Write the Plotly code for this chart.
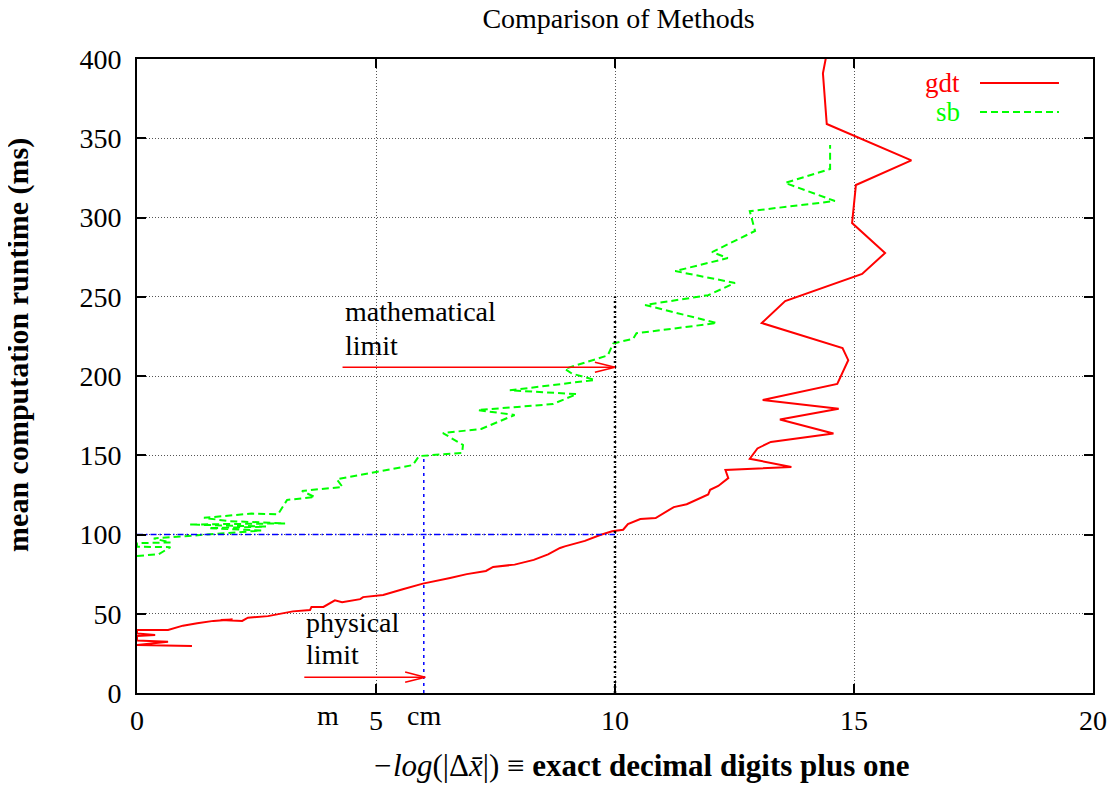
import plotly.graph_objects as go

# ---- data ----
gdt_x = [1.15, 0.0, 0.65, 0.0, 0.0, 0.38, 0.0, 0.0, 0.65, 0.96, 1.26, 1.6, 2.0, 1.75, 2.2,
         2.32, 2.74, 3.26, 3.62, 3.65, 3.9, 4.14, 4.29, 4.67, 4.73, 5.04, 5.15, 5.56, 5.98,
         6.55, 6.9, 7.3, 7.45, 7.9, 8.3, 8.6, 8.85, 8.95, 9.37, 9.69, 9.94, 10.17, 10.27,
         10.53, 10.85, 11.23, 11.5, 11.95, 11.99, 12.16, 12.37, 12.31, 13.69, 12.82, 12.98,
         13.26, 14.57, 13.45, 14.68, 13.09, 14.65, 14.88, 14.76, 13.07, 13.56, 15.17, 15.65,
         14.96, 15.04, 16.2, 14.43, 14.35, 14.42]
gdt_y = [29.7, 30.3, 32.3, 33.2, 36.0, 36.6, 37.5, 39.7, 39.7, 42.5, 44.0, 45.5, 46.3, 46.0, 45.5,
         47.5, 48.5, 51.5, 52.3, 54.3, 54.3, 58.5, 57.3, 59.2, 60.5, 61.2, 61.8, 65.5, 69.0,
         72.6, 75.0, 77.0, 79.5, 81.0, 84.0, 87.5, 91.5, 92.5, 96.0, 99.7, 102.0, 103.0, 106.6,
         109.8, 110.4, 117.3, 119.1, 125.3, 128.2, 130.6, 135.6, 140.7, 142.6, 147.8, 154.3,
         158.4, 163.7, 172.6, 179.4, 184.9, 195.0, 210.0, 217.6, 233.4, 247.3, 264.4, 277.6,
         296.5, 320.5, 336.0, 359.0, 391.0, 402.0]

sb_x = [0.0, 0.45, 0.7, 0.0, 0.0, 0.7, 0.35, 1.0, 2.6, 1.5, 2.7, 1.1, 3.1, 1.9, 1.4, 2.4, 2.95,
        3.14, 3.72, 3.45, 4.3, 4.18, 5.77, 5.9, 6.8, 6.82, 6.4, 7.2, 7.9, 7.13, 8.7, 9.2, 7.8,
        9.58, 9.1, 8.95, 9.85, 9.96, 10.38, 10.45, 12.13, 10.63, 11.95, 12.51, 11.26, 12.36,
        12.03, 12.93, 12.82, 14.6, 13.56, 14.5, 14.5]
sb_y = [86.5, 87.5, 92.0, 92.3, 94.5, 95.0, 97.5, 99.0, 102.5, 104.0, 105.0, 106.3, 107.0, 108.5,
        110.5, 113.2, 112.8, 121.8, 123.6, 127.5, 130.0, 134.8, 143.8, 149.5, 151.4, 156.5,
        164.0, 166.6, 175.4, 178.5, 182.3, 188.6, 191.0, 197.5, 201.5, 204.5, 213.0, 220.5,
        223.5, 227.0, 233.4, 244.8, 251.0, 258.7, 266.2, 274.4, 278.2, 291.5, 304.0, 310.4,
        321.8, 330.6, 345.7]

x_ticks = [0, 5, 10, 15, 20]
y_ticks = [0, 50, 100, 150, 200, 250, 300, 350, 400]

# reference lines
phys_x = 6          # "cm" physical limit
phys_y = 150
math_x = 10         # mathematical limit
math_y = 250
hline_y = 100

# arrows (start x, end x, y)
phys_arrow = (3.5, 6.03, 10)
math_arrow = (4.3, 10.0, 205.5)

unit_labels = [("m", 4), ("cm", 6)]

FONT = "Liberation Serif, Times New Roman, serif"
RED = "#ff0000"
GREEN = "#00ff00"
BLUE = "#0000ff"

fig = go.Figure()

fig.add_trace(go.Scatter(x=gdt_x, y=gdt_y, mode="lines", name="gdt",
                         line=dict(color=RED, width=2), showlegend=False))
fig.add_trace(go.Scatter(x=sb_x, y=sb_y, mode="lines", name="sb",
                         line=dict(color=GREEN, width=2, dash="7px,4px"), showlegend=False))

# guide lines
fig.add_trace(go.Scatter(x=[0, math_x], y=[hline_y, hline_y], mode="lines", showlegend=False,
                         line=dict(color=BLUE, width=1.3, dash="6px,3px,1.5px,3px")))
fig.add_trace(go.Scatter(x=[phys_x, phys_x], y=[0, phys_y], mode="lines", showlegend=False,
                         line=dict(color=BLUE, width=1.5, dash="3px,4px")))
fig.add_trace(go.Scatter(x=[math_x, math_x], y=[0, math_y], mode="lines", showlegend=False,
                         line=dict(color="black", width=2.5, dash="2px,3px")))

# arrows drawn as line traces with open V heads
HX, HY = 0.42, 3.2
for (x0, x1, yy) in [phys_arrow, math_arrow]:
    fig.add_trace(go.Scatter(
        x=[x0, x1, None, x1 - HX, x1, x1 - HX],
        y=[yy, yy, None, yy + HY, yy, yy - HY],
        mode="lines", showlegend=False, line=dict(color=RED, width=1.5)))

annotations = []
def txt(x, y, s, xref="x", yref="y", xanchor="left", yanchor="middle", color="black",
        size=28, **kw):
    annotations.append(dict(x=x, y=y, xref=xref, yref=yref, text=s, showarrow=False,
                            xanchor=xanchor, yanchor=yanchor,
                            font=dict(family=FONT, size=size, color=color), **kw))

txt(4.3, 240.5, "mathematical")
txt(4.3, 219.0, "limit")
txt(3.5, 44.5, "physical")
txt(3.5, 24.0, "limit")

for lab, xv in unit_labels:
    txt(xv, 0, lab, yref="paper", xanchor="center", yanchor="middle", yshift=-22)

# axis titles
txt(0.527, -0.114, "<i>−log</i>(|Δ<i>x̄</i>|) ≡ <b>exact decimal digits plus one</b>",
    xref="paper", yref="paper", xanchor="center", size=31)
txt(-0.1245, 0.549, "<b>mean computation runtime (ms)</b>", xref="paper", yref="paper",
    xanchor="center", size=30, textangle=-90)

# manual legend (text left of sample, gnuplot style)
txt(0.863, 0.9621, "gdt", xref="paper", yref="paper", xanchor="right", color=RED, size=27)
txt(0.863, 0.9164, "sb", xref="paper", yref="paper", xanchor="right", color=GREEN, size=27)

shapes = [
    dict(type="line", xref="paper", yref="paper", x0=0.8818, x1=0.9644, y0=0.9621, y1=0.9621,
         line=dict(color=RED, width=2)),
    dict(type="line", xref="paper", yref="paper", x0=0.8818, x1=0.9644, y0=0.9164, y1=0.9164,
         line=dict(color=GREEN, width=2, dash="7px,4px")),
]

axis_common = dict(showline=True, linecolor="black", linewidth=2, mirror="ticks",
                   ticks="inside", ticklen=9, tickwidth=1.5, tickcolor="black",
                   showgrid=True, gridcolor="#555555", gridwidth=1, griddash="1px,2px",
                   zeroline=False, tickfont=dict(family=FONT, size=28, color="black"))

# the page body has an 8px margin, so the figure is sized/offset to compensate
fig.update_layout(
    width=1112, height=777,
    margin=dict(l=129, r=27, t=51, b=92),
    paper_bgcolor="white", plot_bgcolor="white",
    title=dict(text="Comparison of Methods", x=0.549, xanchor="center",
               y=1 - 10 / 777, yanchor="middle", yref="container",
               font=dict(family=FONT, size=28, color="black")),
    xaxis=dict(range=[0, 20], tickvals=x_ticks, ticklabelstandoff=1, **axis_common),
    yaxis=dict(range=[0, 400], tickvals=y_ticks, ticklabelstandoff=8, **axis_common),
    annotations=annotations, shapes=shapes,
    showlegend=False,
)

fig.write_html("out.html")
